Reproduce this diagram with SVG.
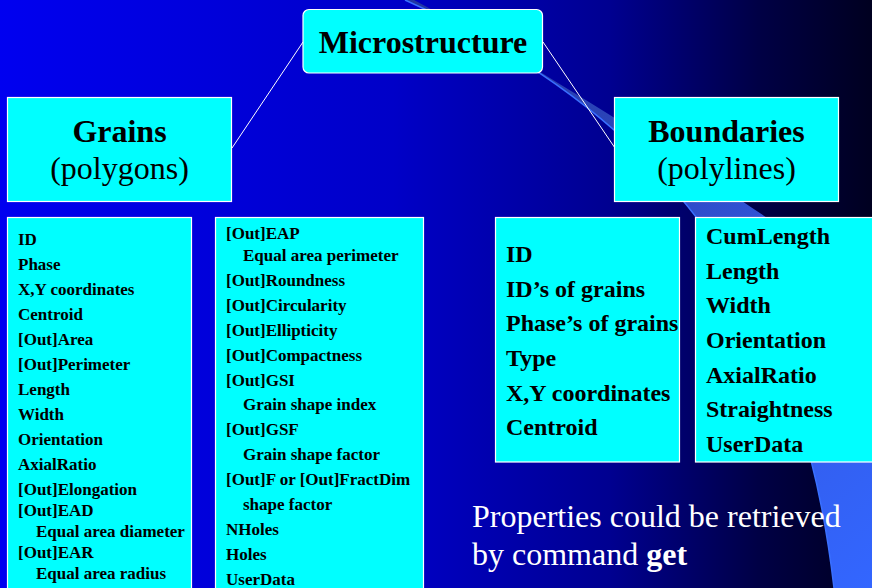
<svg xmlns="http://www.w3.org/2000/svg" width="872" height="588" viewBox="0 0 872 588">
  <defs>
    <linearGradient id="bg" x1="0" y1="0" x2="872" y2="0" gradientUnits="userSpaceOnUse">
      <stop offset="0" stop-color="#0000F0"/>
      <stop offset="0.45" stop-color="#0000C8"/>
      <stop offset="0.7" stop-color="#000090"/>
      <stop offset="0.87" stop-color="#000045"/>
      <stop offset="1" stop-color="#000020"/>
    </linearGradient>
    <linearGradient id="sw" x1="400" y1="0" x2="872" y2="588" gradientUnits="userSpaceOnUse">
      <stop offset="0" stop-color="#2236A0"/>
      <stop offset="0.35" stop-color="#2C46BC"/>
      <stop offset="0.6" stop-color="#3358E0"/>
      <stop offset="1" stop-color="#3366FF"/>
    </linearGradient>
    <style>
      .box { fill: #00FFFF; stroke: #FFFFFF; stroke-width: 1.2; }
      .conn { stroke: #FFFFFF; stroke-width: 1; fill: none; }
      .serif { font-family: "Liberation Serif", "Times New Roman", serif; fill: #000000; }
      .head { font-size: 32px; font-weight: bold; text-anchor: middle; }
      .sub { font-size: 32px; font-weight: normal; text-anchor: middle; }
      .small { font-size: 17px; font-weight: bold; }
      .big { font-size: 24px; font-weight: bold; }
      .note { font-family: "Liberation Serif", "Times New Roman", serif; font-size: 32px; fill: #FFFFFF; }
    </style>
  </defs>

  <rect x="0" y="0" width="872" height="588" fill="url(#bg)"/>
  <path d="M 405 0 C 700 130 805 338 834 588 L 872 588 L 872 290 C 800 240 600 100 414 0 Z" fill="url(#sw)"/>
  <path d="M 405 0 C 700 130 805 338 834 588" fill="none" stroke="#3A70FF" stroke-width="1.5"/>

  <g id="connectors">
    <line class="conn" x1="303" y1="42" x2="232" y2="148"/>
    <line class="conn" x1="543" y1="42" x2="615" y2="148"/>
  </g>

  <g id="microstructure">
    <rect class="box" x="303" y="9.5" width="239.5" height="63.5" rx="6"/>
    <text class="serif head" x="423" y="53">Microstructure</text>
  </g>

  <g id="grains">
    <rect class="box" x="7.5" y="97.5" width="224" height="104"/>
    <text class="serif head" x="119.5" y="142">Grains</text>
    <text class="serif sub" x="119.5" y="179">(polygons)</text>
  </g>

  <g id="boundaries">
    <rect class="box" x="614.5" y="97.5" width="224" height="104"/>
    <text class="serif head" x="726.5" y="142">Boundaries</text>
    <text class="serif sub" x="726.5" y="179">(polylines)</text>
  </g>

  <g id="grains-props-1">
    <rect class="box" x="7.5" y="217.5" width="184" height="380"/>
    <text class="serif small" x="18" y="245">ID</text>
    <text class="serif small" x="18" y="270">Phase</text>
    <text class="serif small" x="18" y="295">X,Y coordinates</text>
    <text class="serif small" x="18" y="320">Centroid</text>
    <text class="serif small" x="18" y="345">[Out]Area</text>
    <text class="serif small" x="18" y="370">[Out]Perimeter</text>
    <text class="serif small" x="18" y="395">Length</text>
    <text class="serif small" x="18" y="420">Width</text>
    <text class="serif small" x="18" y="445">Orientation</text>
    <text class="serif small" x="18" y="470">AxialRatio</text>
    <text class="serif small" x="18" y="495">[Out]Elongation</text>
    <text class="serif small" x="18" y="516">[Out]EAD</text>
    <text class="serif small" x="36" y="537">Equal area diameter</text>
    <text class="serif small" x="18" y="558">[Out]EAR</text>
    <text class="serif small" x="36" y="579">Equal area radius</text>
  </g>

  <g id="grains-props-2">
    <rect class="box" x="215.5" y="217.5" width="208" height="380"/>
    <text class="serif small" x="226" y="239">[Out]EAP</text>
    <text class="serif small" x="243" y="261">Equal area perimeter</text>
    <text class="serif small" x="226" y="286">[Out]Roundness</text>
    <text class="serif small" x="226" y="311">[Out]Circularity</text>
    <text class="serif small" x="226" y="336">[Out]Ellipticity</text>
    <text class="serif small" x="226" y="361">[Out]Compactness</text>
    <text class="serif small" x="226" y="386">[Out]GSI</text>
    <text class="serif small" x="243" y="410">Grain shape index</text>
    <text class="serif small" x="226" y="435">[Out]GSF</text>
    <text class="serif small" x="243" y="460">Grain shape factor</text>
    <text class="serif small" x="226" y="485">[Out]F or [Out]FractDim</text>
    <text class="serif small" x="243" y="510">shape factor</text>
    <text class="serif small" x="226" y="535">NHoles</text>
    <text class="serif small" x="226" y="560">Holes</text>
    <text class="serif small" x="226" y="585">UserData</text>
  </g>

  <g id="boundary-props-1">
    <rect class="box" x="495.5" y="217.5" width="184" height="244.5"/>
    <text class="serif big" x="506" y="262">ID</text>
    <text class="serif big" x="506" y="297">ID’s of grains</text>
    <text class="serif big" x="506" y="331">Phase’s of grains</text>
    <text class="serif big" x="506" y="366">Type</text>
    <text class="serif big" x="506" y="401">X,Y coordinates</text>
    <text class="serif big" x="506" y="435">Centroid</text>
  </g>

  <g id="boundary-props-2">
    <rect class="box" x="695.5" y="217.5" width="190" height="244.5"/>
    <text class="serif big" x="706" y="244">CumLength</text>
    <text class="serif big" x="706" y="279">Length</text>
    <text class="serif big" x="706" y="313">Width</text>
    <text class="serif big" x="706" y="348">Orientation</text>
    <text class="serif big" x="706" y="383">AxialRatio</text>
    <text class="serif big" x="706" y="417">Straightness</text>
    <text class="serif big" x="706" y="452">UserData</text>
  </g>

  <g id="note">
    <text class="note" x="472" y="527">Properties could be retrieved</text>
    <text class="note" x="472" y="565">by command <tspan font-weight="bold">get</tspan></text>
  </g>
</svg>
